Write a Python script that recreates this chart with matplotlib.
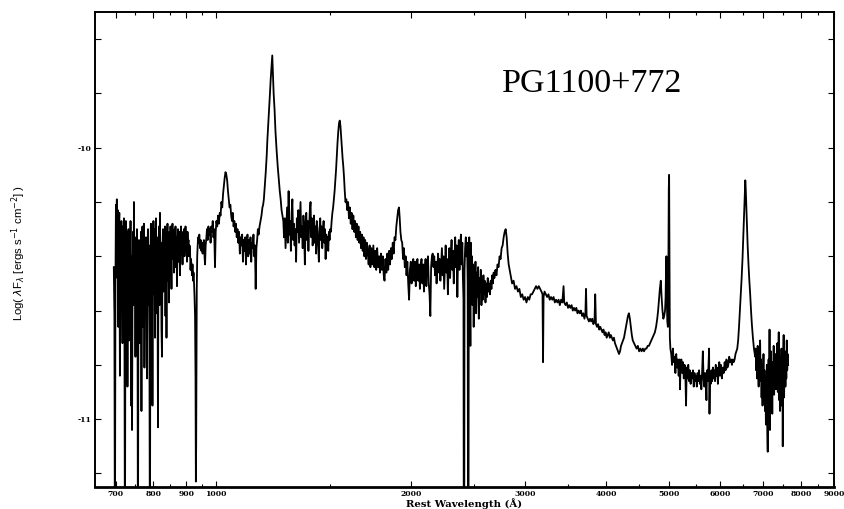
import numpy as np
import matplotlib
matplotlib.use('Agg')
import matplotlib.pyplot as plt
from matplotlib.ticker import FixedLocator, FixedFormatter, NullFormatter

# spectrum: rest wavelength (A) and log(lambda F_lambda)
# far-UV, 695-1000 A (very noisy)
wave_fuv = [695, 696.5, 697.8, 699, 700.3, 701.5, 702.5, 703.8, 705, 706.2, 707.5, 708.8, 710.2, 711.5,
            712.8, 714, 715.4, 716.8, 718, 719.2, 720.5, 721.8, 723.1, 724.4, 725.6, 727, 728.3, 729.6,
            731, 732.3, 733.6, 735, 736.3, 737.6, 739, 740.3, 741.6, 743, 744.3, 745.5, 746.6, 748,
            749.3, 750.6, 752, 753.3, 754.6, 756, 757.3, 758.6, 760, 761.4, 762.7, 764, 765.4, 766.8,
            768.1, 769.5, 771, 772.3, 773.6, 775, 776.4, 777.8, 779.1, 780.5, 782, 783.3, 784.7, 786,
            787.5, 788.9, 790.3, 791.6, 793, 794.5, 796, 797.4, 798.8, 800.2, 801.7, 803.1, 804.6, 806,
            807.4, 808.9, 810.3, 811.8, 813.2, 814.6, 816.1, 817.5, 819, 820.5, 822, 823.4, 824.9,
            826.4, 827.9, 829.3, 830.8, 832.3, 833.8, 835.2, 836.7, 838.2, 839.7, 841.2, 842.7, 844.2,
            845.7, 847.2, 848.7, 850.2, 851.7, 853.2, 854.8, 856.3, 857.8, 859.4, 861, 862.5, 864,
            865.5, 867, 868.6, 870.1, 871.7, 873.2, 874.8, 876.4, 878, 879.5, 881.1, 882.7, 884.2,
            885.8, 887.4, 889, 890.5, 892.1, 893.7, 895.3, 896.9, 898.5, 900.1, 901.7, 903.3, 904.9,
            906.5, 908.1, 909.8, 911.4, 913, 914.6, 916.3, 917.9, 919.5, 921.2, 922.8, 924.5, 926.1,
            927.8, 929.4, 930.5, 931.5, 932.5, 933.5, 935, 936.5, 938, 940, 942, 944.4, 946.5, 949,
            951, 953, 955, 957.5, 959.5, 961.4, 963.5, 966, 968, 970.5, 973, 975.5, 978, 980.5, 983,
            985.5, 988, 990.5, 993, 996, 998.5]
flux_fuv = [-10.44, -10.62, -11.60, -10.52, -10.21, -10.35, -10.19, -10.48, -10.23, -10.66, -10.30, -10.24,
            -10.84, -10.33, -10.58, -10.27, -10.47, -10.72, -10.29, -10.55, -10.26, -10.64, -11.60, -10.42,
            -10.27, -10.60, -10.31, -10.88, -10.36, -10.30, -10.71, -10.34, -10.52, -10.27, -10.95, -10.40,
            -11.04, -10.45, -10.31, -10.58, -10.20, -10.48, -10.33, -10.77, -10.36, -10.62, -10.30, -10.49,
            -11.60, -10.52, -10.34, -10.72, -10.38, -10.56, -10.31, -10.97, -10.44, -10.29, -10.66, -10.40,
            -10.28, -10.81, -10.37, -10.62, -10.33, -10.47, -10.85, -10.39, -10.30, -10.58, -10.36, -10.74,
            -11.60, -10.42, -10.28, -10.63, -10.35, -10.95, -10.40, -10.27, -10.54, -10.30, -10.70, -10.37,
            -10.26, -10.61, -10.33, -10.49, -11.03, -10.41, -10.29, -10.58, -10.24, -10.45, -10.35, -10.67,
            -10.77, -10.38, -10.30, -10.53, -10.33, -10.46, -10.29, -10.62, -10.36, -10.70, -10.34, -10.28,
            -10.49, -10.33, -10.57, -10.31, -10.42, -10.29, -10.38, -10.52, -10.32, -10.28, -10.41, -10.33,
            -10.46, -10.30, -10.37, -10.29, -10.44, -10.33, -10.51, -10.35, -10.30, -10.42, -10.31, -10.36,
            -10.47, -10.32, -10.29, -10.39, -10.33, -10.43, -10.31, -10.35, -10.30, -10.40, -10.34, -10.29,
            -10.37, -10.33, -10.42, -10.31, -10.36, -10.34, -10.40, -10.36, -10.38, -10.45, -10.41, -10.44,
            -10.47, -10.43, -10.49, -10.46, -10.50, -10.55, -10.62, -10.85, -11.23, -11.10, -10.75, -10.52,
            -10.40, -10.36, -10.33, -10.35, -10.32, -10.37, -10.34, -10.38, -10.35, -10.39, -10.36, -10.34,
            -10.40, -10.43, -10.36, -10.33, -10.30, -10.34, -10.29, -10.32, -10.30, -10.35, -10.29, -10.31,
            -10.27, -10.33, -10.30, -10.44, -10.31]

# O VI, Ly-alpha and the 1270-1500 A stretch
wave_lya = [1001, 1004, 1007, 1010, 1013, 1016, 1019, 1022, 1025, 1028, 1031, 1034, 1037, 1040, 1043, 1046,
            1049, 1052, 1055, 1058, 1061, 1064, 1067, 1070, 1073, 1076, 1079, 1082, 1085, 1088, 1091,
            1094, 1097, 1100, 1103, 1106, 1109, 1112, 1115, 1118, 1121, 1124, 1127, 1130, 1133, 1136,
            1139, 1142, 1145, 1148, 1151, 1154, 1157, 1160, 1163, 1167, 1171, 1175, 1179, 1182, 1185,
            1189, 1193, 1197, 1200, 1204, 1208, 1211, 1214, 1218, 1221, 1224, 1227, 1231, 1235, 1240,
            1245, 1250, 1254, 1258, 1262, 1266, 1270, 1273, 1276.5, 1280, 1283.5, 1287, 1290.5, 1294,
            1297.5, 1301, 1304.5, 1308, 1311.5, 1315, 1318.5, 1322, 1325.5, 1329, 1332.5, 1336, 1339.5,
            1343, 1346.5, 1350, 1353.5, 1357, 1360.5, 1364, 1367.5, 1371, 1374.5, 1378, 1381.5, 1385,
            1388.5, 1392, 1395.5, 1399, 1402.5, 1406, 1409.5, 1413, 1416.5, 1420, 1423.5, 1427, 1430.5,
            1434, 1437.5, 1441, 1444.5, 1448, 1451.5, 1455, 1458.5, 1462, 1465.5, 1469, 1472.5, 1476,
            1479.5, 1483, 1486.5, 1490, 1493.5, 1497, 1500.5]
flux_lya = [-10.27, -10.29, -10.25, -10.28, -10.24, -10.25, -10.20, -10.22, -10.17, -10.14, -10.11, -10.09,
            -10.10, -10.12, -10.16, -10.19, -10.22, -10.21, -10.25, -10.27, -10.24, -10.29, -10.27, -10.31,
            -10.28, -10.33, -10.30, -10.35, -10.31, -10.39, -10.33, -10.36, -10.32, -10.42, -10.34, -10.38,
            -10.33, -10.43, -10.35, -10.32, -10.40, -10.34, -10.39, -10.33, -10.42, -10.35, -10.37, -10.32,
            -10.40, -10.36, -10.52, -10.37, -10.34, -10.30, -10.32, -10.29, -10.27, -10.25, -10.22, -10.21,
            -10.19, -10.14, -10.09, -10.03, -9.97, -9.91, -9.85, -9.80, -9.75, -9.70, -9.66, -9.73, -9.80,
            -9.86, -9.94, -10.01, -10.07, -10.12, -10.16, -10.19, -10.23, -10.25, -10.27, -10.33, -10.26,
            -10.37, -10.29, -10.22, -10.35, -10.16, -10.32, -10.27, -10.38, -10.24, -10.19, -10.34, -10.28,
            -10.36, -10.30, -10.42, -10.26, -10.31, -10.23, -10.35, -10.27, -10.20, -10.33, -10.29, -10.37,
            -10.25, -10.31, -10.43, -10.28, -10.24, -10.34, -10.27, -10.38, -10.29, -10.23, -10.20, -10.33,
            -10.26, -10.36, -10.30, -10.25, -10.35, -10.29, -10.39, -10.27, -10.31, -10.36, -10.42, -10.30,
            -10.26, -10.34, -10.29, -10.37, -10.31, -10.27, -10.35, -10.30, -10.41, -10.32, -10.36, -10.33,
            -10.38, -10.31, -10.34, -10.30]

# C IV, C III] and the 2000-2700 A stretch
wave_civ = [1504, 1508, 1512, 1516, 1520, 1524, 1528, 1532, 1536, 1540, 1544, 1548, 1552, 1556, 1560, 1564,
            1568, 1572, 1576, 1580, 1584, 1589, 1594, 1599, 1604, 1609, 1614, 1619, 1624, 1629, 1634,
            1639, 1644, 1649, 1654, 1659, 1664, 1669, 1674, 1679, 1684, 1689, 1694, 1699, 1704, 1709,
            1714, 1720, 1726, 1731, 1737, 1743, 1749, 1755, 1761, 1767, 1773, 1779, 1785, 1791, 1797,
            1803, 1809, 1815, 1820, 1826, 1832, 1838, 1844, 1850, 1856, 1862, 1868, 1874, 1880, 1886,
            1892, 1898, 1904, 1910, 1916, 1921, 1926, 1932, 1938, 1944, 1950, 1956, 1962, 1968, 1974,
            1980, 1986, 1992, 1998, 2004, 2010, 2016, 2022, 2028, 2034, 2040, 2046, 2052, 2058, 2064,
            2070, 2076, 2082, 2088, 2094, 2100, 2106, 2112, 2118, 2124, 2130, 2136, 2142, 2148, 2154,
            2160, 2166, 2172, 2178, 2184, 2190, 2196, 2202, 2208, 2214, 2220, 2226, 2232, 2238, 2244,
            2250, 2256, 2262, 2268, 2274, 2280, 2286, 2292, 2298, 2304, 2310, 2316, 2322, 2328, 2334,
            2340, 2346, 2352, 2358, 2364, 2370, 2376, 2382, 2388, 2394, 2400, 2405, 2410, 2413, 2416,
            2419, 2424, 2430, 2436, 2441, 2446, 2450, 2453, 2456, 2460, 2465, 2470, 2474, 2479, 2484,
            2489, 2494, 2499, 2504, 2509, 2515, 2521, 2527, 2533, 2539, 2545, 2551, 2557, 2563, 2569,
            2575, 2581, 2587, 2593, 2599, 2606, 2613, 2620, 2627, 2634, 2641, 2648, 2655, 2662, 2669,
            2676, 2683]
flux_civ = [-10.31, -10.27, -10.24, -10.22, -10.19, -10.16, -10.12, -10.08, -10.03, -9.98, -9.94, -9.91,
            -9.90, -9.92, -9.96, -10.00, -10.04, -10.07, -10.11, -10.16, -10.20,
            -10.19, -10.23, -10.20, -10.26, -10.22, -10.28, -10.24, -10.30, -10.25, -10.31, -10.27, -10.33,
            -10.28, -10.34, -10.29, -10.35, -10.31, -10.37, -10.32, -10.38, -10.33, -10.40, -10.34, -10.41,
            -10.35, -10.38, -10.43, -10.36, -10.44, -10.37, -10.43, -10.36, -10.44, -10.38, -10.45, -10.37,
            -10.44, -10.40, -10.46, -10.39, -10.45, -10.40, -10.47, -10.49, -10.41, -10.46, -10.39, -10.45,
            -10.38, -10.43, -10.37, -10.41, -10.35, -10.39, -10.33, -10.34, -10.29, -10.26,
            -10.23, -10.22, -10.26, -10.31, -10.34, -10.35, -10.41, -10.37, -10.44, -10.40, -10.47, -10.42,
            -10.50, -10.56, -10.45, -10.42, -10.50, -10.43, -10.41, -10.49, -10.42, -10.51, -10.44, -10.41,
            -10.49, -10.43, -10.52, -10.44, -10.41, -10.50, -10.43, -10.53, -10.45, -10.41, -10.51, -10.43,
            -10.40, -10.50, -10.54, -10.62, -10.44, -10.40,
            -10.39, -10.44, -10.40, -10.47, -10.42, -10.50, -10.44, -10.39, -10.46, -10.41, -10.49,
            -10.43, -10.37, -10.47, -10.40, -10.52, -10.44, -10.36, -10.46, -10.41, -10.54, -10.43, -10.37,
            -10.48, -10.40, -10.34, -10.45, -10.38, -10.50, -10.41, -10.33, -10.44, -10.36, -10.55, -10.40,
            -10.34, -10.45, -10.37, -10.32, -10.43, -10.35, -10.48, -10.56, -11.60, -11.60, -10.45, -10.37,
            -10.33, -10.40, -10.35, -10.50, -11.60, -11.60, -10.38, -10.33, -10.44, -10.73, -10.35, -10.48,
            -10.40, -10.58, -10.43, -10.66, -10.45, -10.52, -10.42, -10.61, -10.46, -10.55, -10.44, -10.63,
            -10.48, -10.53, -10.45, -10.58, -10.49, -10.56, -10.47, -10.54, -10.49, -10.57, -10.50, -10.55,
            -10.48, -10.53, -10.50, -10.54, -10.49, -10.52, -10.47, -10.50, -10.46]

# Mg II through the Balmer lines and [O III]
wave_opt = [2690, 2700, 2710, 2720, 2730, 2740, 2750, 2760, 2770, 2780, 2790, 2800, 2810, 2820, 2830, 2840,
            2850, 2865, 2880, 2895, 2910, 2925, 2940, 2955, 2970, 2985, 3000, 3015, 3030, 3045, 3060,
            3075, 3090, 3105, 3120, 3135, 3150, 3165, 3180, 3192, 3198, 3204, 3215, 3230, 3245, 3260,
            3275, 3290, 3305, 3320, 3335, 3350, 3365, 3380, 3395, 3410, 3425, 3440, 3448, 3465, 3480,
            3495, 3510, 3525, 3540, 3555, 3570, 3585, 3600, 3615, 3630, 3645, 3660, 3675, 3690, 3705,
            3718, 3726, 3734, 3750, 3765, 3780, 3795, 3810, 3825, 3840, 3850, 3860, 3875, 3890, 3905,
            3920, 3935, 3950, 3965, 3980, 3995, 4010, 4025, 4040, 4055, 4070, 4085, 4100, 4115, 4130,
            4145, 4160, 4175, 4190, 4205, 4220, 4235, 4250, 4265, 4280, 4295, 4310, 4325, 4340, 4355,
            4370, 4385, 4400, 4420, 4440, 4460, 4480, 4500, 4520, 4540, 4560, 4580, 4600, 4620, 4640,
            4660, 4680, 4700, 4720, 4740, 4760, 4780, 4800, 4815, 4830, 4845, 4861, 4875, 4890, 4905,
            4920, 4935, 4945, 4952, 4959, 4966, 4975, 4985, 4995, 5001, 5007, 5013, 5020, 5030]
flux_opt = [-10.48, -10.45, -10.47, -10.43, -10.44, -10.40, -10.41, -10.37, -10.36, -10.33, -10.31, -10.30,
            -10.33, -10.39, -10.43, -10.45, -10.47, -10.50, -10.49, -10.52, -10.51, -10.53, -10.52, -10.55,
            -10.54, -10.56, -10.55, -10.57, -10.55, -10.56, -10.54, -10.54, -10.53, -10.52, -10.51, -10.52,
            -10.51, -10.52, -10.53, -10.54, -10.79, -10.55, -10.53, -10.54, -10.55, -10.54, -10.56, -10.55,
            -10.56, -10.55, -10.57, -10.56, -10.57, -10.56, -10.58, -10.56, -10.57, -10.51, -10.57, -10.58,
            -10.57, -10.59, -10.58, -10.59, -10.58, -10.60, -10.59, -10.60, -10.59, -10.61, -10.60, -10.61,
            -10.60, -10.62, -10.61, -10.63, -10.61, -10.52, -10.62, -10.63, -10.64, -10.63, -10.64, -10.63,
            -10.65, -10.64, -10.54, -10.65, -10.66, -10.65, -10.67, -10.66, -10.67, -10.68, -10.67, -10.69,
            -10.68, -10.70, -10.69, -10.68, -10.70, -10.69, -10.70, -10.71, -10.70, -10.72, -10.73, -10.74,
            -10.75, -10.76, -10.75, -10.73, -10.72, -10.71, -10.70, -10.68, -10.66, -10.64, -10.62, -10.61,
            -10.63, -10.66, -10.69, -10.71, -10.72, -10.73, -10.74, -10.73, -10.75, -10.74, -10.75, -10.74,
            -10.75, -10.74, -10.74, -10.73, -10.73, -10.72, -10.71, -10.70, -10.69, -10.68, -10.66, -10.63,
            -10.60, -10.56, -10.52, -10.49, -10.55, -10.60, -10.63, -10.62, -10.60, -10.55, -10.45, -10.40,
            -10.55, -10.64, -10.66, -10.40, -10.15, -10.10, -10.40, -10.70, -10.74]

# red end: 5000-7650 A with H-alpha
wave_red = [5045, 5060, 5075, 5090, 5105, 5120, 5135, 5150, 5165, 5180, 5195, 5205, 5215, 5230, 5245, 5260,
            5275, 5290, 5305, 5318, 5330, 5345, 5360, 5375, 5390, 5405, 5420, 5435, 5450, 5465, 5480,
            5495, 5510, 5525, 5540, 5555, 5570, 5585, 5600, 5615, 5630, 5645, 5660, 5675, 5690, 5705,
            5718, 5730, 5745, 5760, 5772, 5780, 5790, 5805, 5820, 5835, 5850, 5865, 5880, 5895, 5910,
            5925, 5940, 5955, 5970, 5985, 6000, 6020, 6040, 6060, 6080, 6100, 6120, 6140, 6160, 6180,
            6200, 6220, 6240, 6260, 6280, 6300, 6320, 6340, 6360, 6380, 6400, 6420, 6440, 6460, 6480,
            6500, 6520, 6540, 6555, 6565, 6575, 6590, 6605, 6620, 6640, 6660, 6680, 6700, 6720, 6745,
            6770, 6800, 6812, 6824, 6836, 6848, 6860, 6872, 6884, 6896, 6908, 6920, 6932, 6944, 6956,
            6968, 6980, 6992, 7004, 7016, 7028, 7040, 7052, 7064, 7076, 7088, 7100, 7110, 7120, 7132,
            7144, 7156, 7166, 7178, 7190, 7202, 7214, 7226, 7238, 7250, 7262, 7274, 7286, 7298, 7310,
            7322, 7334, 7346, 7358, 7370, 7382, 7394, 7406, 7418, 7430, 7442, 7454, 7466, 7478, 7490,
            7500, 7512, 7524, 7536, 7548, 7560, 7572, 7584, 7596, 7608, 7620, 7632, 7645]
flux_red = [-10.76, -10.80, -10.74, -10.79, -10.77, -10.83, -10.76, -10.81, -10.78, -10.84, -10.78, -10.89,
            -10.80, -10.78, -10.83, -10.79, -10.85, -10.80, -10.84, -10.95, -10.81, -10.85, -10.80, -10.86,
            -10.82, -10.87, -10.83, -10.85, -10.82, -10.88, -10.83, -10.86, -10.84, -10.88, -10.83, -10.86,
            -10.82, -10.87, -10.84, -10.89, -10.83, -10.75, -10.85, -10.88, -10.83, -10.86, -10.93, -10.82,
            -10.86, -10.80, -10.74, -10.98, -10.84, -10.87, -10.82, -10.86, -10.81, -10.85, -10.82, -10.86,
            -10.80, -10.84, -10.81, -10.87, -10.82, -10.79, -10.84, -10.80, -10.85, -10.81, -10.83, -10.79,
            -10.82, -10.78, -10.81, -10.80, -10.77, -10.79, -10.78, -10.80, -10.78, -10.79, -10.78, -10.76,
            -10.75, -10.74, -10.71, -10.66, -10.60, -10.54, -10.48, -10.41, -10.32, -10.23, -10.16, -10.12,
            -10.15, -10.22, -10.29, -10.36, -10.43, -10.49, -10.54, -10.60, -10.65, -10.70, -10.74, -10.77,
            -10.74, -10.82, -10.76, -10.85, -10.73, -10.80, -10.88, -10.75, -10.83, -10.71, -10.86, -10.78,
            -10.92, -10.80, -10.95, -10.84, -10.76, -10.90, -10.82, -10.97, -10.85, -11.02, -10.88, -10.80,
            -11.05, -11.12, -10.90, -10.78, -10.99, -10.67, -11.04, -10.86, -10.75, -10.93, -10.82, -10.98,
            -10.79, -10.88, -10.73, -10.91, -10.80, -10.86, -10.76, -10.89, -10.79, -10.84, -10.72, -10.90,
            -10.78, -10.68, -10.93, -10.81, -10.97, -10.77, -10.86, -10.74, -10.95, -10.83, -11.10, -10.79,
            -10.69, -10.92, -10.80, -10.75, -10.88, -10.78, -10.85, -10.71, -10.82, -10.76, -10.80]

x_major = [700, 800, 900, 1000, 2000, 3000, 4000, 5000, 6000, 7000, 8000, 9000]
x_minor = [750, 850, 950, 1500, 2500, 3500, 4500, 5500, 6500, 7500, 8500]
y_ticks = [-11.2, -11.0, -10.8, -10.6, -10.4, -10.2, -10.0, -9.8, -9.6]

wave = np.concatenate([wave_fuv, wave_lya, wave_civ, wave_opt, wave_red])
logf = np.concatenate([flux_fuv, flux_lya, flux_civ, flux_opt, flux_red])

fig = plt.figure(figsize=(8.45, 5.09), dpi=100)
ax = fig.add_axes([0.1124, 0.0432, 0.8746, 0.9332])

ax.plot(wave, logf, color='black', lw=1.3)

ax.set_xscale('log')
ax.set_xlim(650, 9000)
ax.set_ylim(-11.25, -9.5)

ax.xaxis.set_major_locator(FixedLocator(x_major))
ax.xaxis.set_major_formatter(FixedFormatter([str(v) for v in x_major]))
ax.xaxis.set_minor_locator(FixedLocator(x_minor))
ax.xaxis.set_minor_formatter(NullFormatter())
ax.yaxis.set_major_locator(FixedLocator(y_ticks))
ax.yaxis.set_major_formatter(FixedFormatter(['' if abs(v - round(v)) > 1e-6 else '%d' % round(v) for v in y_ticks]))
for lab in ax.get_xticklabels() + ax.get_yticklabels():
    lab.set_fontfamily('DejaVu Serif')
    lab.set_fontweight('bold')
    lab.set_fontsize(5.5)

ax.tick_params(which='both', direction='in', top=True, right=True, width=0.8)
ax.tick_params(which='major', length=4, pad=2.5)
ax.tick_params(which='minor', length=2.5)

for side in ['left', 'top', 'right']:
    ax.spines[side].set_linewidth(1.4)
ax.spines['bottom'].set_linewidth(2.0)

ax.set_xlabel('Rest Wavelength (Å)', fontfamily='DejaVu Serif', fontweight='bold', fontsize=7.3, va='center')
ax.xaxis.set_label_coords(0.5, -0.034)
ax.set_ylabel(r'Log( $\lambda$F$_\lambda$ [ergs s$^{-1}$ cm$^{-2}$] )', fontfamily='Liberation Sans',
              fontsize=8.2, va='center')
ax.yaxis.set_label_coords(-0.103, 0.493)

ax.text(0.551, 0.832, 'PG1100+772', transform=ax.transAxes, fontfamily='Liberation Serif',
        fontsize=24.5, va='baseline', ha='left')

fig.savefig('out.png', dpi=100)
